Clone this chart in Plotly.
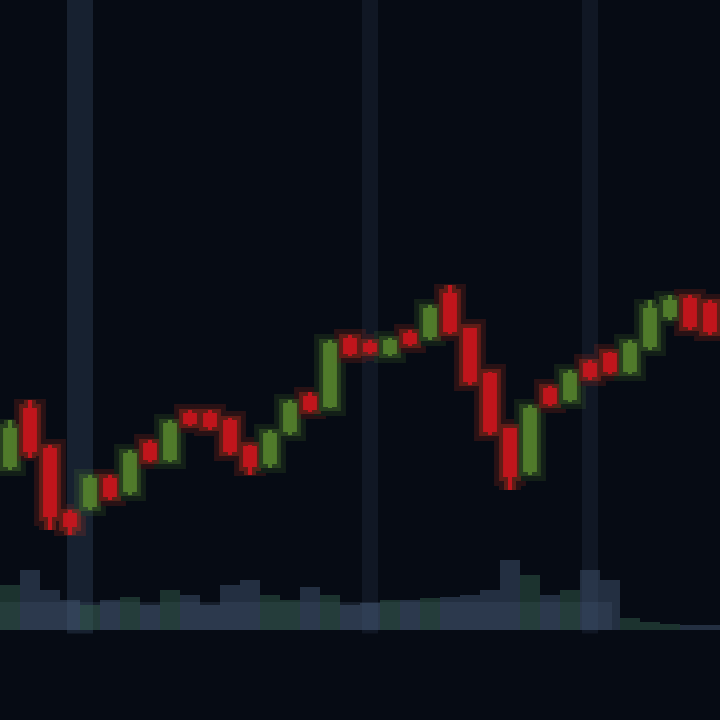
import plotly.graph_objects as go

# Candle index positions
idx = list(range(36))
opens  = [255, 310, 270, 205, 215, 240, 230, 275, 262, 305, 305, 298, 272, 258, 290, 322, 315, 380,
          375, 368, 385, 385, 425, 390, 345, 290, 250, 330, 322, 355, 365, 350, 375, 405, 420, 415]
closes = [290, 270, 205, 195, 240, 225, 265, 262, 295, 298, 295, 270, 255, 285, 315, 312, 375, 368,
          370, 378, 378, 410, 390, 340, 290, 245, 310, 318, 345, 345, 350, 375, 410, 418, 395, 390]
highs  = [300, 320, 275, 210, 245, 245, 270, 280, 300, 310, 310, 302, 275, 290, 320, 328, 380, 385,
          380, 382, 390, 415, 435, 392, 348, 292, 315, 334, 350, 360, 368, 380, 420, 425, 425, 420]
lows   = [250, 262, 190, 185, 210, 220, 225, 258, 258, 294, 290, 265, 245, 252, 285, 308, 312, 364,
          366, 364, 374, 380, 386, 335, 285, 230, 245, 314, 318, 340, 346, 346, 370, 400, 390, 385]
volumes = [45, 60, 40, 30, 25, 30, 33, 25, 40, 35, 25, 45, 50, 35, 30, 43, 35, 25,
           27, 30, 30, 32, 33, 35, 40, 70, 55, 35, 40, 60, 50, 12, 8, 6, 5, 5]
vol_base = 90
vertical_marks = [3.5, 18.0, 29.0]

vol_colors = ["rgba(70,90,120,0.45)" if c < o else "rgba(55,100,80,0.45)" for o, c in zip(opens, closes)]

fig = go.Figure()

# Volume bars
fig.add_trace(go.Bar(x=idx, y=volumes, base=[vol_base] * len(idx), marker_color=vol_colors,
                     marker_line_width=0, width=1.0, showlegend=False))

# Glow layers
fig.add_trace(go.Candlestick(x=idx, open=opens, high=highs, low=lows, close=closes,
                             increasing=dict(line=dict(color="#4f7d2c", width=22), fillcolor="#4f7d2c"),
                             decreasing=dict(line=dict(color="#c8321c", width=22), fillcolor="#c8321c"),
                             opacity=0.18, whiskerwidth=0, showlegend=False))
fig.add_trace(go.Candlestick(x=idx, open=opens, high=highs, low=lows, close=closes,
                             increasing=dict(line=dict(color="#4f7d2c", width=12), fillcolor="#4f7d2c"),
                             decreasing=dict(line=dict(color="#c8321c", width=12), fillcolor="#c8321c"),
                             opacity=0.35, whiskerwidth=0, showlegend=False))
# Main candles
fig.add_trace(go.Candlestick(x=idx, open=opens, high=highs, low=lows, close=closes,
                             increasing=dict(line=dict(color="#5a8a2e", width=4), fillcolor="#5a8a2e"),
                             decreasing=dict(line=dict(color="#d8141e", width=4), fillcolor="#d8141e"),
                             opacity=0.8, whiskerwidth=0, showlegend=False))

shapes = []
widths = [1.3, 0.8, 0.8]
cols = ["rgba(40,55,75,0.5)", "rgba(25,35,50,0.55)", "rgba(25,35,50,0.55)"]
for xm, w, c in zip(vertical_marks, widths, cols):
    shapes.append(dict(type="rect", xref="x", yref="paper", x0=xm - w / 2, x1=xm + w / 2, y0=0.12, y1=1,
                       fillcolor=c, line_width=0, layer="below"))
# baseline glow band
shapes.append(dict(type="rect", xref="paper", yref="y", x0=0, x1=0.85, y0=vol_base, y1=vol_base + 28,
                   fillcolor="rgba(60,75,100,0.3)", line_width=0, layer="below"))

fig.update_layout(
    width=720, height=720,
    margin=dict(l=0, r=0, t=0, b=0),
    paper_bgcolor="#050910", plot_bgcolor="#060b14",
    xaxis=dict(range=[-0.5, 35.5], visible=False, rangeslider=dict(visible=False)),
    yaxis=dict(range=[0, 720], visible=False),
    shapes=shapes, bargap=0.0, hovermode=False,
)

fig.write_html("out.html", config={"displayModeBar": False, "staticPlot": True},
               post_script="document.body.style.margin='0';document.body.style.background='#050910';")
